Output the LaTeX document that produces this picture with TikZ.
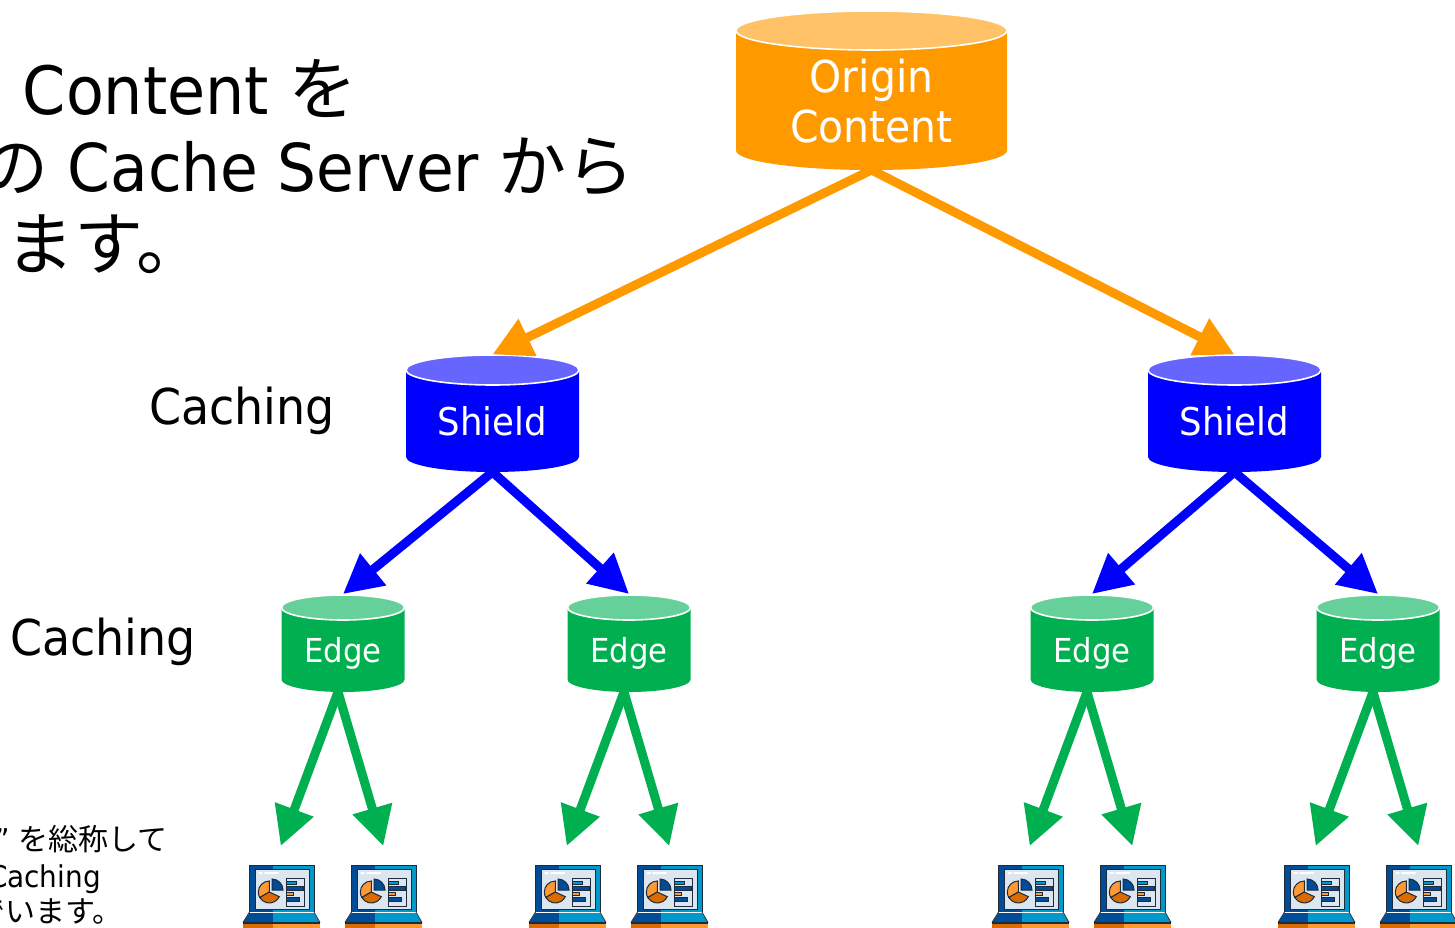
\documentclass[tikz,border=0pt]{standalone}
\usepackage{fontspec}
\usetikzlibrary{arrows.meta}
\setmainfont[FakeStretch=0.93]{DejaVu Sans}
\newfontfamily\cjk{Noto Sans CJK JP}
\definecolor{orgbody}{HTML}{FF9900}
\definecolor{orgtop}{HTML}{FFC266}
\definecolor{shbody}{HTML}{0000FF}
\definecolor{shtop}{HTML}{6666FF}
\definecolor{edbody}{HTML}{00B050}
\definecolor{edtop}{HTML}{66D09A}
\definecolor{ldark}{HTML}{004C97}
\definecolor{llight}{HTML}{0099CC}
\definecolor{lorgd}{HTML}{D96B00}
\definecolor{lorgl}{HTML}{FF9933}
\definecolor{lscreen}{HTML}{DCE6F0}
\definecolor{lline}{HTML}{1F2A3A}
\newcommand{\fs}[1]{\fontsize{#1}{#1}\selectfont}
% name, cx, ytop, rx, ry, ybottom, body, top, text
\newcommand{\cyl}[9]{%
  \fill[#7] (#2-#4,#3+#5) -- (#2-#4,#6-#5) arc[start angle=180,end angle=0,x radius=#4,y radius=#5] -- (#2+#4,#3+#5) -- cycle;
  \fill[#8,draw=white,line width=1.6pt] (#2,#3+#5) ellipse[x radius=#4,y radius=#5];
  \node[cylbox,minimum width=2*#4 pt,minimum height=#6 pt-#3 pt] (#1) at (#2,{(#3+#6)/2}) {};
  \node[cyltext] at (#2,{(#3+#6)/2+#5*0.55+(#5<13?3:0)}) {#9};
}
% name, cx
\newcommand{\laptop}[2]{%
  \node[lapbox] (#1) at (#2,897) {};
  \begin{scope}[shift={(#2,897)}]
    \fill[ldark] (-32.5,-32) rectangle (-8.5,15);
    \fill[llight] (-8.5,-32) rectangle (32.5,15);
    \draw[lline,line width=1pt] (-32.5,15) -- (-32.5,-32) -- (32.5,-32) -- (32.5,15);
    \fill[lscreen,draw=lline,line width=1pt] (-26.5,-27.5) rectangle (27.5,12.5);
    \fill[white] (-23,-25) rectangle (-19,-23) (-17,-25) rectangle (-3,-23);
    \fill[lorgl,draw=lline,line width=1pt] (-12.2,-5) -- (-12.2,-16) arc[start angle=-90,end angle=-210,radius=11] -- cycle;
    \fill[lorgd,draw=lline,line width=1pt] (-12.2,-5) -- (-21.7,0.5) arc[start angle=-210,end angle=-335,radius=11] -- cycle;
    \fill[ldark,draw=lline,line width=1pt] (-9.5,-7) -- (-9.5,-18) arc[start angle=-90,end angle=0,radius=11] -- cycle;
    \draw[lline,line width=1pt] (5,-19) -- (5,9.5) -- (23,9.5) -- (23,-19) -- cycle;
    \fill[llight,draw=lline,line width=.7pt] (5,-16) rectangle (15,-12.5);
    \fill[ldark,draw=lline,line width=.7pt] (5,-10.5) rectangle (22,-7);
    \fill[lorgl,draw=lline,line width=.7pt] (5,-5) rectangle (12,-1.5);
    \fill[ldark,draw=lline,line width=.7pt] (5,.5) rectangle (18,4);
    \fill[ldark] (-32,16) -- (-8.5,16) -- (-8.5,25.5) -- (-38.5,25.5) -- cycle;
    \fill[llight] (-8.5,16) -- (32.5,16) -- (38.5,25.5) -- (-8.5,25.5) -- cycle;
    \draw[lline,line width=.8pt] (-38.5,25.5) -- (-32,15) (32.5,15) -- (38.5,25.5);
    \fill[lline] (-38.5,25) rectangle (38.5,26.5);
    \fill[lorgd] (-38.5,26.5) rectangle (-8.5,32);
    \fill[lorgl] (-8.5,26.5) rectangle (38.5,32);
  \end{scope}
}
\tikzset{
  x=1pt,y=-1pt,
  cylbox/.style={rectangle,inner sep=0pt,outer sep=0pt},
  cyltext/.style={white,align=center,inner sep=0pt},
  lapbox/.style={rectangle,inner sep=0pt,outer sep=0pt,minimum width=77pt,minimum height=62pt},
  lbl/.style={black,inner sep=0pt,anchor=base west},
  lblr/.style={black,inner sep=0pt,anchor=base east},
  conn/.style={line width=9pt,-{Triangle[length=39pt,width=39pt]}},
  orgc/.style={conn,draw=orgbody,color=orgbody},
  shc/.style={conn,draw=shbody,color=shbody},
  edc/.style={conn,draw=edbody,color=edbody},
}
\begin{document}
\begin{tikzpicture}
\path[use as bounding box] (0,0) rectangle (1455,928);
\clip (0,0) rectangle (1455,928);
\fill[white] (0,0) rectangle (1455,928);
\cyl{origin}{871.5}{11}{135.5}{19.5}{170}{orgbody}{orgtop}{\fs{44}Origin\\[7pt]\fs{44}Content}
\cyl{shieldA}{492.5}{355}{86.5}{15}{472}{shbody}{shtop}{\fs{38.2}Shield}
\cyl{shieldB}{1234.5}{355}{86.5}{15}{472}{shbody}{shtop}{\fs{38.2}Shield}
\cyl{edgeA}{343}{595}{61.5}{12.5}{692}{edbody}{edtop}{\fs{33}Edge}
\cyl{edgeB}{629}{595}{61.5}{12.5}{692}{edbody}{edtop}{\fs{33}Edge}
\cyl{edgeC}{1092}{595}{61.5}{12.5}{692}{edbody}{edtop}{\fs{33}Edge}
\cyl{edgeD}{1378}{595}{61.5}{12.5}{692}{edbody}{edtop}{\fs{33}Edge}
\laptop{lapA}{281.5}
\laptop{lapB}{383.5}
\laptop{lapC}{567.5}
\laptop{lapD}{669.5}
\laptop{lapE}{1030.5}
\laptop{lapF}{1132.5}
\laptop{lapG}{1316.5}
\laptop{lapH}{1418.5}
\draw[orgc] (origin.south) -- ([yshift=.5pt]shieldA.north);
\draw[orgc] (origin.south) -- ([yshift=.5pt]shieldB.north);
\draw[shc] (shieldA.south) -- ([yshift=1pt]edgeA.north);
\draw[shc] (shieldA.south) -- ([yshift=1pt]edgeB.north);
\draw[shc] (shieldB.south) -- ([yshift=1pt]edgeC.north);
\draw[shc] (shieldB.south) -- ([yshift=1pt]edgeD.north);
\foreach \e/\l/\r in {edgeA/lapA/lapB,edgeB/lapC/lapD,edgeC/lapE/lapF,edgeD/lapG/lapH}{
  \draw[edc] ([xshift=-5pt]\e.south) -- ([xshift=-.8pt,yshift=20pt]\l.north);
  \draw[edc] ([xshift=-5pt]\e.south) -- ([xshift=-.2pt,yshift=20pt]\r.north);
}
\node[lblr] (t1) at (358,115) {\fs{66.6}Content {\cjk\fs{69}を}};
\node[lblr] (t2) at (635,191) {\fs{66}{\cjk 複数の} Cache Server {\cjk\fs{68}から}};
\node[lblr] (t3) at (206,269) {\fs{69}{\cjk され\hspace{6pt}ます。}};
\node[lbl] (c1) at (149,424) {\fs{49.4}Caching};
\node[lbl] (c2) at (10,655) {\fs{49.4}Caching};
\node[lblr] (n1) at (168,850) {\fs{30}” {\cjk を総称して}};
\node[lblr] (n2) at (101,887) {\fs{30}Caching};
\node[lblr] (n3) at (123,922) {\fs{30}{\cjk 呼んでいます。}};
\end{tikzpicture}
\end{document}
